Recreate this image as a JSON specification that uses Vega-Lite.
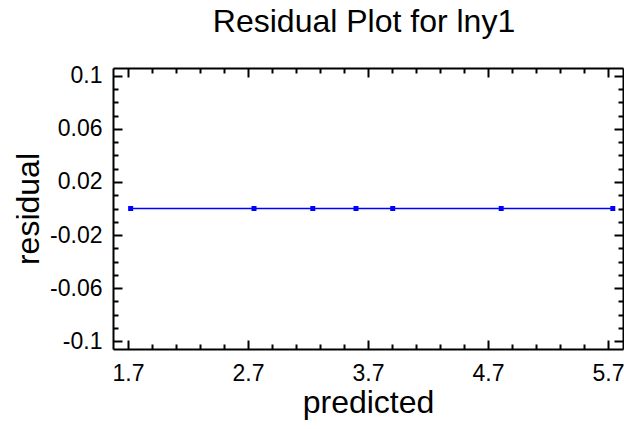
{
  "$schema": "https://vega.github.io/schema/vega-lite/v6.json",
  "width": 510,
  "height": 281,
  "autosize": {"type": "none"},
  "padding": {"left": 113, "top": 68, "right": 1, "bottom": 80},
  "background": "white",
  "config": {
    "view": {"stroke": null},
    "font": "Liberation Sans",
    "axis": {"domainColor": "black", "domainWidth": 2, "tickColor": "black", "tickWidth": 2, "grid": false, "labelColor": "black", "titleColor": "black", "labelFont": "Liberation Sans", "titleFont": "Liberation Sans", "titleFontWeight": "normal", "labelFontSize": 23}
  },
  "title": {"text": "Residual Plot for lny1", "fontSize": 32, "fontWeight": "normal", "font": "Liberation Sans", "color": "black", "offset": 26, "dx": -4},
  "data": {"values": [
    {"predicted": 1.722, "residual": 0},
    {"predicted": 2.75, "residual": 0},
    {"predicted": 3.24, "residual": 0},
    {"predicted": 3.6, "residual": 0},
    {"predicted": 3.906, "residual": 0},
    {"predicted": 4.81, "residual": 0},
    {"predicted": 5.74, "residual": 0}
  ]},
  "layer": [
    {
      "mark": {"type": "line", "color": "#0000ff", "strokeWidth": 1.5},
      "encoding": {
        "x": {"field": "predicted", "type": "quantitative", "scale": {"domain": [1.575, 5.825], "nice": false, "zero": false},
          "axis": {"orient": "bottom", "title": "predicted", "values": [1.7, 2.7, 3.7, 4.7, 5.7], "tickSize": -9, "labelFontSize": 23, "titleFontSize": 32, "labelPadding": 22, "titlePadding": 2, "labelExpr": "toString(datum.value)"}},
        "y": {"field": "residual", "type": "quantitative", "scale": {"domain": [-0.106, 0.106], "nice": false, "zero": false},
          "axis": {"orient": "left", "title": "residual", "values": [0.1, 0.06, 0.02, -0.02, -0.06, -0.1], "tickSize": -9, "labelFontSize": 23, "titleFontSize": 32, "labelPadding": 20, "titlePadding": 4, "labelExpr": "toString(datum.value)"}}
      }
    },
    {
      "mark": {"type": "square", "color": "#0000ff", "size": 25, "opacity": 1},
      "encoding": {
        "x": {"field": "predicted", "type": "quantitative", "axis": {"orient": "top", "title": null, "labels": false, "values": [1.7, 2.7, 3.7, 4.7, 5.7], "tickSize": -9}},
        "y": {"field": "residual", "type": "quantitative", "axis": {"orient": "right", "title": null, "labels": false, "values": [0.1, 0.06, 0.02, -0.02, -0.06, -0.1], "tickSize": -9}}
      }
    },
    {
      "mark": {"type": "point", "opacity": 0},
      "encoding": {
        "x": {"field": "predicted", "type": "quantitative", "axis": {"orient": "bottom", "title": null, "labels": false, "domain": false, "values": [1.9, 2.1, 2.3, 2.5, 2.9, 3.1, 3.3, 3.5, 3.9, 4.1, 4.3, 4.5, 4.9, 5.1, 5.3, 5.5], "tickSize": -5}},
        "y": {"field": "residual", "type": "quantitative", "axis": {"orient": "left", "title": null, "labels": false, "domain": false, "values": [0.09, 0.08, 0.07, 0.05, 0.04, 0.03, 0.01, 0, -0.01, -0.03, -0.04, -0.05, -0.07, -0.08, -0.09], "tickSize": -5}}
      }
    },
    {
      "mark": {"type": "point", "opacity": 0},
      "encoding": {
        "x": {"field": "predicted", "type": "quantitative", "axis": {"orient": "top", "title": null, "labels": false, "domain": false, "values": [1.9, 2.1, 2.3, 2.5, 2.9, 3.1, 3.3, 3.5, 3.9, 4.1, 4.3, 4.5, 4.9, 5.1, 5.3, 5.5], "tickSize": -5}},
        "y": {"field": "residual", "type": "quantitative", "axis": {"orient": "right", "title": null, "labels": false, "domain": false, "values": [0.09, 0.08, 0.07, 0.05, 0.04, 0.03, 0.01, 0, -0.01, -0.03, -0.04, -0.05, -0.07, -0.08, -0.09], "tickSize": -5}}
      }
    }
  ],
  "resolve": {"axis": {"x": "independent", "y": "independent"}}
}
